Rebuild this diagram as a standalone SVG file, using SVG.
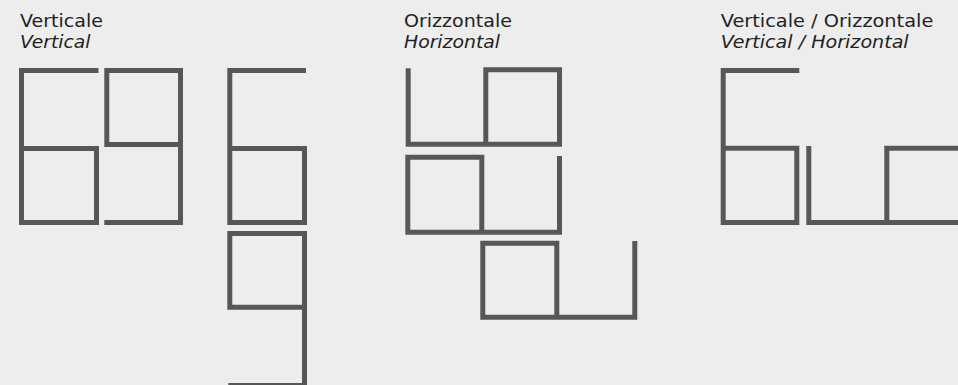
<svg xmlns="http://www.w3.org/2000/svg" width="958" height="385" viewBox="0 0 958 385">
<style>
.bg{fill:#ededed}
.t{font-family:"DejaVu Sans","Liberation Sans",sans-serif;font-size:18.5px;fill:#222222}
.i{font-style:italic}
.s{fill:none;stroke:#575757;stroke-width:5;stroke-linejoin:miter;stroke-linecap:butt}
</style>
<rect class="bg" x="0" y="0" width="958" height="385"/>
<g id="labels">
<text class="t" x="20" y="27.3" textLength="83" lengthAdjust="spacingAndGlyphs">Verticale</text>
<text class="t i" x="20" y="47.7" textLength="70.5" lengthAdjust="spacingAndGlyphs">Vertical</text>
<text class="t" x="404" y="27.3" textLength="108" lengthAdjust="spacingAndGlyphs">Orizzontale</text>
<text class="t i" x="404" y="47.7" textLength="96" lengthAdjust="spacingAndGlyphs">Horizontal</text>
<text class="t" x="720.7" y="27.3" textLength="212.6" lengthAdjust="spacingAndGlyphs">Verticale / Orizzontale</text>
<text class="t i" x="720.7" y="47.7" textLength="188" lengthAdjust="spacingAndGlyphs">Vertical / Horizontal</text>
</g>
<g id="vertical">
<g id="v1"><path class="s" d="M98.5 70.5 H21.5 V222.5 H96.5 V148.5 H21.5"/></g>
<g id="v2"><path class="s" d="M104.3 222.5 H180.5 V70.5 H106.8 V144.5 H180.5"/></g>
<g id="v3"><path class="s" d="M306 70.5 H229.8 V222.5 H304.5 V148.5 H229.8"/></g>
<g id="v4"><path class="s" d="M228.3 385.5 H304.5 V233.5 H229.8 V307.2 H304.5"/></g>
</g>
<g id="horizontal">
<g id="h1"><path class="s" d="M408.2 68.3 V144.2 H559.5 V69.8 H485.8 V144.2"/></g>
<g id="h2"><path class="s" d="M559.5 156 V232.3 H407.8 V157.3 H481.8 V232.3"/></g>
<g id="h3"><path class="s" d="M634.8 241 V317.2 H482.8 V243.3 H556.8 V317.2"/></g>
</g>
<g id="mixed">
<g id="m1"><path class="s" d="M799.3 70.5 H723.2 V222.5 H796.8 V148.3 H723.2"/></g>
<g id="m2"><path class="s" d="M808.8 146 V222.5 H965 M886.8 222.5 V148.3 H965"/></g>
</g>
</svg>
